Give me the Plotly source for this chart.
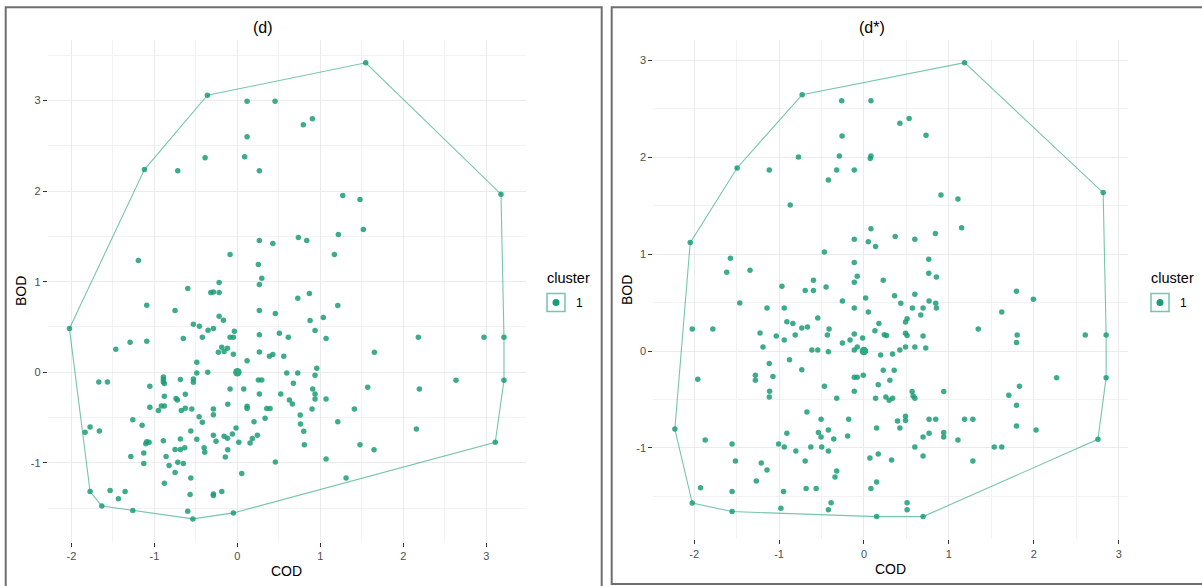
import plotly.graph_objects as go

W, H = 1202, 586
FONT = "Arial, Liberation Sans, sans-serif"

# ---- data: panel (d) ----
COD_d = [
    -2.024, -1.120, -0.361, 1.547, 3.177, 3.213, 3.213, 3.108, -0.048, -0.537, -1.260, -1.634, -1.775,
    0.117, 0.454, 0.117, -0.389, 0.088, -0.718, 0.265, -1.193, -0.088, 0.265, 0.427, 0.735, 0.253, 0.294,
    0.265, -0.220, -0.598, -0.320, -0.289, -0.220, 0.728,
    0.795, 0.904, 1.270, 1.478, 1.518, 1.217, 1.169, 0.836, 0.868,
    -1.092, -0.751, 0.265, 0.458, -0.530, -0.458, -0.220, -0.168, -0.353, -0.289, -0.422, -0.036, -0.088,
    -0.048, 0.265, 0.506, 0.614, -0.651, -1.293, -1.092, -1.465, -0.188, -0.120, -0.229, -0.160, -0.048,
    0.265, 0.386, 0.427, 0.559, -0.489, 0.117, -0.489, -0.357, 0.595, 0.728, -1.670, -1.566, -0.892,
    -0.892, -0.892, -0.880, -0.687, -0.530, -0.530, 0.253, 0.294, 0.675, -1.055, -0.088, 0.077, 0.265,
    0.523, -0.880, -0.739, -0.723, -0.627, 0.627, 0.663, -0.116, -1.055, -0.916, -0.880, -0.952, -0.675,
    -0.627, -0.549, -0.289, -0.289, 0.117, 0.117, 0.354, 0.394, 0.757, 0.334, -0.461, -0.422, 0.201,
    0.760, -1.260, -1.775, -1.148, -1.835, -1.663, -0.561, -0.016, -0.289, -0.160, -0.120, -0.060, -0.489,
    -0.257, 0.241, 0.181, 0.153, 0.017, -1.092, -1.064, -1.104, -0.892, -0.687, -0.751, -0.687, -0.634,
    -0.401, -0.393, -0.116, -1.128, -1.284, -0.859, -0.145, -0.718, -0.651, -0.823, -1.128, 0.458, -0.751,
    0.053, -0.561, -0.880, -1.534, -1.434, -1.353, -0.570, -0.289, -0.289, -0.188, -0.598,
    1.210, 1.036, 0.876, 0.936, 1.069, 2.181, 2.972, 1.651, 0.957, 0.936, 2.635, 1.571, 2.193, 0.908,
    0.936, 0.936, 1.069, 0.900, 1.410, 1.210, 0.800, 2.157, 0.807, 1.478, 1.647, 1.069, 1.310,
]
BOD_d = [
    0.482, 2.237, 3.057, 3.415, 1.965, 0.386, -0.088, -0.773, -1.552, -1.618, -1.526, -1.475, -1.317,
    2.990, 2.990, 2.598, 2.366, 2.377, 2.223, 2.223, 1.233, 1.299, 1.454, 1.421, 1.487, 1.189, 1.038,
    0.968, 0.990, 0.924, 0.880, 0.887, 0.880, 0.817,
    2.731, 2.797, 1.950, 1.906, 1.575, 1.520, 1.299, 1.454, 0.870,
    0.740, 0.681, 0.681, 0.648, 0.530, 0.508, 0.618, 0.574, 0.464, 0.482, 0.386, 0.453, 0.386,
    0.386, 0.413, 0.430, 0.386, 0.372, 0.331, 0.342, 0.254, 0.276, 0.265, 0.221, 0.228, 0.199,
    0.225, 0.177, 0.195, 0.177, 0.110, 0.126, -0.007, 0.000, -0.007, -0.007, -0.106, -0.106, -0.051,
    -0.081, -0.106, -0.124, -0.081, -0.073, -0.110, -0.084, -0.084, -0.121, -0.155, -0.184, -0.184, -0.239,
    -0.239, -0.265, -0.290, -0.305, -0.243, -0.305, -0.349, -0.353, -0.386, -0.371, -0.371, -0.423, -0.423,
    -0.397, -0.404, -0.404, -0.470, -0.375, -0.401, -0.401, -0.401, -0.472, -0.508, -0.492, -0.552, -0.547,
    -0.570, -0.525, -0.603, -0.585, -0.662, -0.647, -0.647, -0.614, -0.695, -0.706, -0.728, -0.680, -0.739,
    -0.762, -0.695, -0.732, -0.780, -0.772, -0.768, -0.772, -0.790, -0.757, -0.735, -0.853, -0.853, -0.834,
    -0.834, -0.883, -0.856, -0.890, -0.930, -0.930, -0.934, -0.993, -1.008, -1.030, -1.008, -0.989, -1.107,
    -1.118, -1.166, -1.225, -1.306, -1.397, -1.317, -1.350, -1.342, -1.361, -1.317, -1.534,
    0.736, 0.604, 0.571, 0.460, 0.372, 0.386, 0.386, 0.221, 0.044, -0.033, -0.088, -0.166, -0.184, -0.184,
    -0.239, -0.294, -0.294, -0.404, -0.404, -0.547, -0.651, -0.625, -0.801, -0.801, -0.856, -0.956, -1.166,
]

# ---- data: panel (d*) ----
COD_ds = [
    -2.227, -2.046, -1.494, -0.728, 1.185, 2.817, 2.852, 2.852, 2.755, 0.696, 0.149, -1.553, -2.022,
    -0.262, 0.082, 0.423, -0.258, -0.771, -0.290, 0.082, 0.074, -1.115, -0.321, -0.114, -0.419, -0.869,
    -0.466, 0.082, -0.114, 0.051, 0.137, 0.368, -1.573, -1.616, -1.342, -0.114, -0.079, -0.114, 0.227,
    -0.595, -0.966, -0.692, -0.595, -0.446, 0.020, 0.360,
    0.532, 0.731, 0.907, 1.107, 1.150, 0.841, 0.599, 0.763, 0.763, 0.853, 0.599, 1.796, 1.995,
    -1.463, -1.142, -0.939, -0.254, -0.114, 0.051, 0.434, -0.544, -0.908, -0.837, -0.732, -0.665, -0.411,
    0.176, 0.129, 0.239, 0.266, -2.022, -1.780, -1.224, -1.033, -0.939, -0.810, -0.431, -0.114, -0.016,
    -0.254, -0.164, -0.114, -0.079, -1.189, -0.614, -0.544, -0.419, 0.196, 0.337, 0.423, -0.877, -1.115,
    -0.732, 0.227, 0.356, -1.957, -1.279, -1.279, -1.072, -0.114, -0.079, -0.008, 0.305, 0.168, -0.466,
    -1.111, -1.115, -0.114, -0.321, 0.137, 0.258, 0.297, 0.337, -0.672, -0.505, -0.180, 0.395, 0.423,
    0.149, -0.419, -0.908, -0.536, -0.505, -0.356, -0.192, -1.870, -1.553, -1.006, -0.939, -0.802, -0.626,
    -0.497, -0.419, 0.168, 0.070, 0.325, -1.514, -0.692, -1.209, -1.142, -0.321, -0.341, -1.268, 0.149,
    -1.925, -1.553, -0.947, -0.681, -0.563, 0.082, -0.387, -0.419, -0.978,
    0.767, 0.845, 0.853, 0.571, 0.696, 0.669, 0.508, 0.489, 1.623, 1.346, 1.804, 1.796, 2.606, 0.489,
    0.508, 0.696, 0.599, 0.489, 0.728, 2.269, 1.831, 1.706, 0.567, 0.579, 0.599, 0.939, 1.796, 0.489,
    0.489, 0.767, 0.845, 1.185, 1.283, 1.796, 2.027, 0.696, 0.767, 0.939, 0.939, 1.107, 0.599, 1.534,
    1.623, 0.696, 1.283, 0.508, 0.508,
]
BOD_ds = [
    -0.805, 1.119, 1.889, 2.646, 2.976, 1.635, 0.165, -0.275, -0.911, -1.709, -1.709, -1.657, -1.569,
    2.584, 2.584, 2.350, 2.219, 2.002, 2.012, 2.012, 1.986, 1.868, 1.868, 1.868, 1.765, 1.507,
    1.022, 1.263, 1.153, 1.129, 1.080, 1.181, 0.957, 0.812, 0.833, 0.915, 0.771, 0.709, 0.730,
    0.730, 0.668, 0.626, 0.626, 0.660, 0.548, 0.570,
    2.401, 2.226, 1.610, 1.569, 1.273, 1.212, 1.153, 0.946, 0.802, 0.764, 0.585, 0.616, 0.535,
    0.495, 0.444, 0.444, 0.516, 0.444, 0.403, 0.492, 0.341, 0.303, 0.283, 0.237, 0.248, 0.227,
    0.283, 0.210, 0.169, 0.159, 0.227, 0.227, 0.186, 0.155, 0.114, 0.165, 0.165, 0.176, 0.134,
    0.083, 0.114, 0.010, 0.041, 0.041, 0.010, 0.010, -0.007, -0.041, -0.031, 0.010, -0.089, -0.130,
    -0.192, -0.199, -0.199, -0.292, -0.251, -0.302, -0.264, -0.271, -0.271, -0.251, -0.302, -0.347, -0.364,
    -0.416, -0.475, -0.416, -0.488, -0.488, -0.475, -0.509, -0.488, -0.630, -0.705, -0.705, -0.722, -0.795,
    -0.795, -0.815, -0.849, -0.842, -0.887, -0.908, -0.877, -0.918, -0.960, -0.960, -0.991, -1.032, -0.991,
    -0.991, -1.032, -1.063, -1.104, -1.125, -1.135, -1.135, -1.156, -1.228, -1.238, -1.300, -1.342, -1.352,
    -1.410, -1.451, -1.451, -1.420, -1.420, -1.420, -1.565, -1.637, -1.623,
    0.516, 0.492, 0.444, 0.444, 0.444, 0.372, 0.334, 0.299, 0.403, 0.227, 0.165, 0.087, 0.165, 0.183,
    0.159, 0.155, 0.041, 0.041, 0.031, -0.275, -0.364, -0.457, -0.419, -0.464, -0.488, -0.419, -0.560, -0.674,
    -0.718, -0.705, -0.705, -0.705, -0.705, -0.774, -0.815, -0.887, -0.849, -0.842, -0.887, -0.918, -0.991, -0.991,
    -0.991, -1.084, -1.135, -1.565, -1.637,
]

# cluster centre (standardised space)
CENTER_COD = [0.0]
CENTER_BOD = [0.0]

X_TICKS = [-2, -1, 0, 1, 2, 3]
Y_TICKS = [-1, 0, 1, 2, 3]
PANEL_TITLES = ["(d)", "(d*)"]
X_TITLE, Y_TITLE = "COD", "BOD"
LEGEND_TITLE = "cluster"
CLUSTER_LABEL = "1"

POINT_COLOR = "rgba(27,158,119,0.85)"
HULL_COLOR = "rgba(27,158,119,0.6)"


def convex_hull(xs, ys):
    pts = sorted(set(zip(xs, ys)))

    def cross(o, a, b):
        return (a[0] - o[0]) * (b[1] - o[1]) - (a[1] - o[1]) * (b[0] - o[0])

    lower, upper = [], []
    for p in pts:
        while len(lower) >= 2 and cross(lower[-2], lower[-1], p) <= 0:
            lower.pop()
        lower.append(p)
    for p in reversed(pts):
        while len(upper) >= 2 and cross(upper[-2], upper[-1], p) <= 0:
            upper.pop()
        upper.append(p)
    hull = lower[:-1] + upper[:-1]
    hull.append(hull[0])
    return [p[0] for p in hull], [p[1] for p in hull]


def expanded(vals, mult=0.05):
    lo, hi = min(vals), max(vals)
    pad = (hi - lo) * mult
    return [lo - pad, hi + pad]


def px(x):
    return x / W


def py(y):
    return 1 - y / H


fig = go.Figure()

panels = [
    (COD_d, BOD_d, "x", "y"),
    (COD_ds, BOD_ds, "x2", "y2"),
]
for xs, ys, xa, ya in panels:
    hx, hy = convex_hull(xs, ys)
    fig.add_trace(go.Scatter(x=hx, y=hy, mode="lines", xaxis=xa, yaxis=ya,
                             line=dict(color=HULL_COLOR, width=1.1), hoverinfo="skip",
                             showlegend=False))
    fig.add_trace(go.Scatter(x=xs, y=ys, mode="markers", xaxis=xa, yaxis=ya,
                             marker=dict(color=POINT_COLOR, size=5.5, line=dict(width=0)),
                             showlegend=False))
    fig.add_trace(go.Scatter(x=CENTER_COD, y=CENTER_BOD, mode="markers", xaxis=xa, yaxis=ya,
                             marker=dict(color="rgba(27,158,119,0.9)", size=8.5, line=dict(width=0)),
                             showlegend=False))


def axis_style(ticks):
    return dict(
        tickmode="array", tickvals=ticks, ticktext=[str(t) for t in ticks],
        ticks="outside", ticklen=4, tickwidth=1, tickcolor="#333333",
        tickfont=dict(family=FONT, size=11, color="#4D4D4D"),
        showgrid=True, gridcolor="#EBEBEB", gridwidth=1,
        minor=dict(tickmode="linear", tick0=0.5, dtick=1, showgrid=True,
                   gridcolor="#F2F2F2", gridwidth=1, ticks=""),
        zeroline=False, showline=False,
    )


fig.update_layout(
    width=W, height=H, autosize=False,
    margin=dict(l=0, r=0, t=0, b=0),
    paper_bgcolor="white", plot_bgcolor="white",
    font=dict(family=FONT),
    xaxis=dict(domain=[px(47.7), px(525.7)], range=expanded(COD_d), anchor="y", **axis_style(X_TICKS)),
    yaxis=dict(domain=[py(541.7), py(40)], range=expanded(BOD_d), anchor="x", **axis_style(Y_TICKS)),
    xaxis2=dict(domain=[px(653.3), px(1127.7)], range=expanded(COD_ds), anchor="y2", **axis_style(X_TICKS)),
    yaxis2=dict(domain=[py(539.3), py(40)], range=expanded(BOD_ds), anchor="x2", **axis_style(Y_TICKS)),
)

# outer frames around each sub-plot
frame = dict(type="rect", xref="paper", yref="paper", line=dict(color="#6E6E6E", width=2),
             fillcolor="rgba(0,0,0,0)", layer="above")
fig.add_shape(x0=px(5.7), x1=px(601.7), y0=py(590), y1=py(7.3), **frame)
fig.add_shape(x0=px(611.7), x1=px(1210), y0=py(584), y1=py(7.3), **frame)

annotations = []
# titles, axis titles and legends
specs = [
    dict(title_x=263, xlab_x=286.7, xlab_y=571, ylab_x=21, ylab_y=291, leg_x=545.5),
    dict(title_x=872, xlab_x=890.5, xlab_y=569, ylab_x=627, ylab_y=290, leg_x=1149.5),
]
for title, s in zip(PANEL_TITLES, specs):
    annotations.append(dict(text=title, x=px(s["title_x"]), y=py(27), xref="paper", yref="paper",
                            showarrow=False, xanchor="center", yanchor="middle",
                            font=dict(family=FONT, size=16, color="#000000")))
    annotations.append(dict(text=X_TITLE, x=px(s["xlab_x"]), y=py(s["xlab_y"]), xref="paper", yref="paper",
                            showarrow=False, xanchor="center", yanchor="middle",
                            font=dict(family=FONT, size=14, color="#000000")))
    annotations.append(dict(text=Y_TITLE, x=px(s["ylab_x"]), y=py(s["ylab_y"]), xref="paper", yref="paper",
                            showarrow=False, xanchor="center", yanchor="middle", textangle=-90,
                            font=dict(family=FONT, size=14, color="#000000")))
    lx = s["leg_x"]
    annotations.append(dict(text=LEGEND_TITLE, x=px(lx - 1), y=py(278), xref="paper", yref="paper",
                            showarrow=False, xanchor="left", yanchor="middle",
                            font=dict(family=FONT, size=14.5, color="#000000")))
    annotations.append(dict(text=CLUSTER_LABEL, x=px(lx + 28), y=py(302.5), xref="paper", yref="paper",
                            showarrow=False, xanchor="left", yanchor="middle",
                            font=dict(family=FONT, size=12, color="#000000")))
    fig.add_shape(type="rect", xref="paper", yref="paper",
                  x0=px(lx + 1.5), x1=px(lx + 19.5), y0=py(311.5), y1=py(293.5),
                  line=dict(color=HULL_COLOR, width=1.5), fillcolor="white")
    fig.add_shape(type="circle", xref="paper", yref="paper",
                  x0=px(lx + 7), x1=px(lx + 14), y0=py(306), y1=py(299),
                  line=dict(width=0), fillcolor="#1B9E77")

fig.update_layout(annotations=annotations)

fig.write_html("out.html")
